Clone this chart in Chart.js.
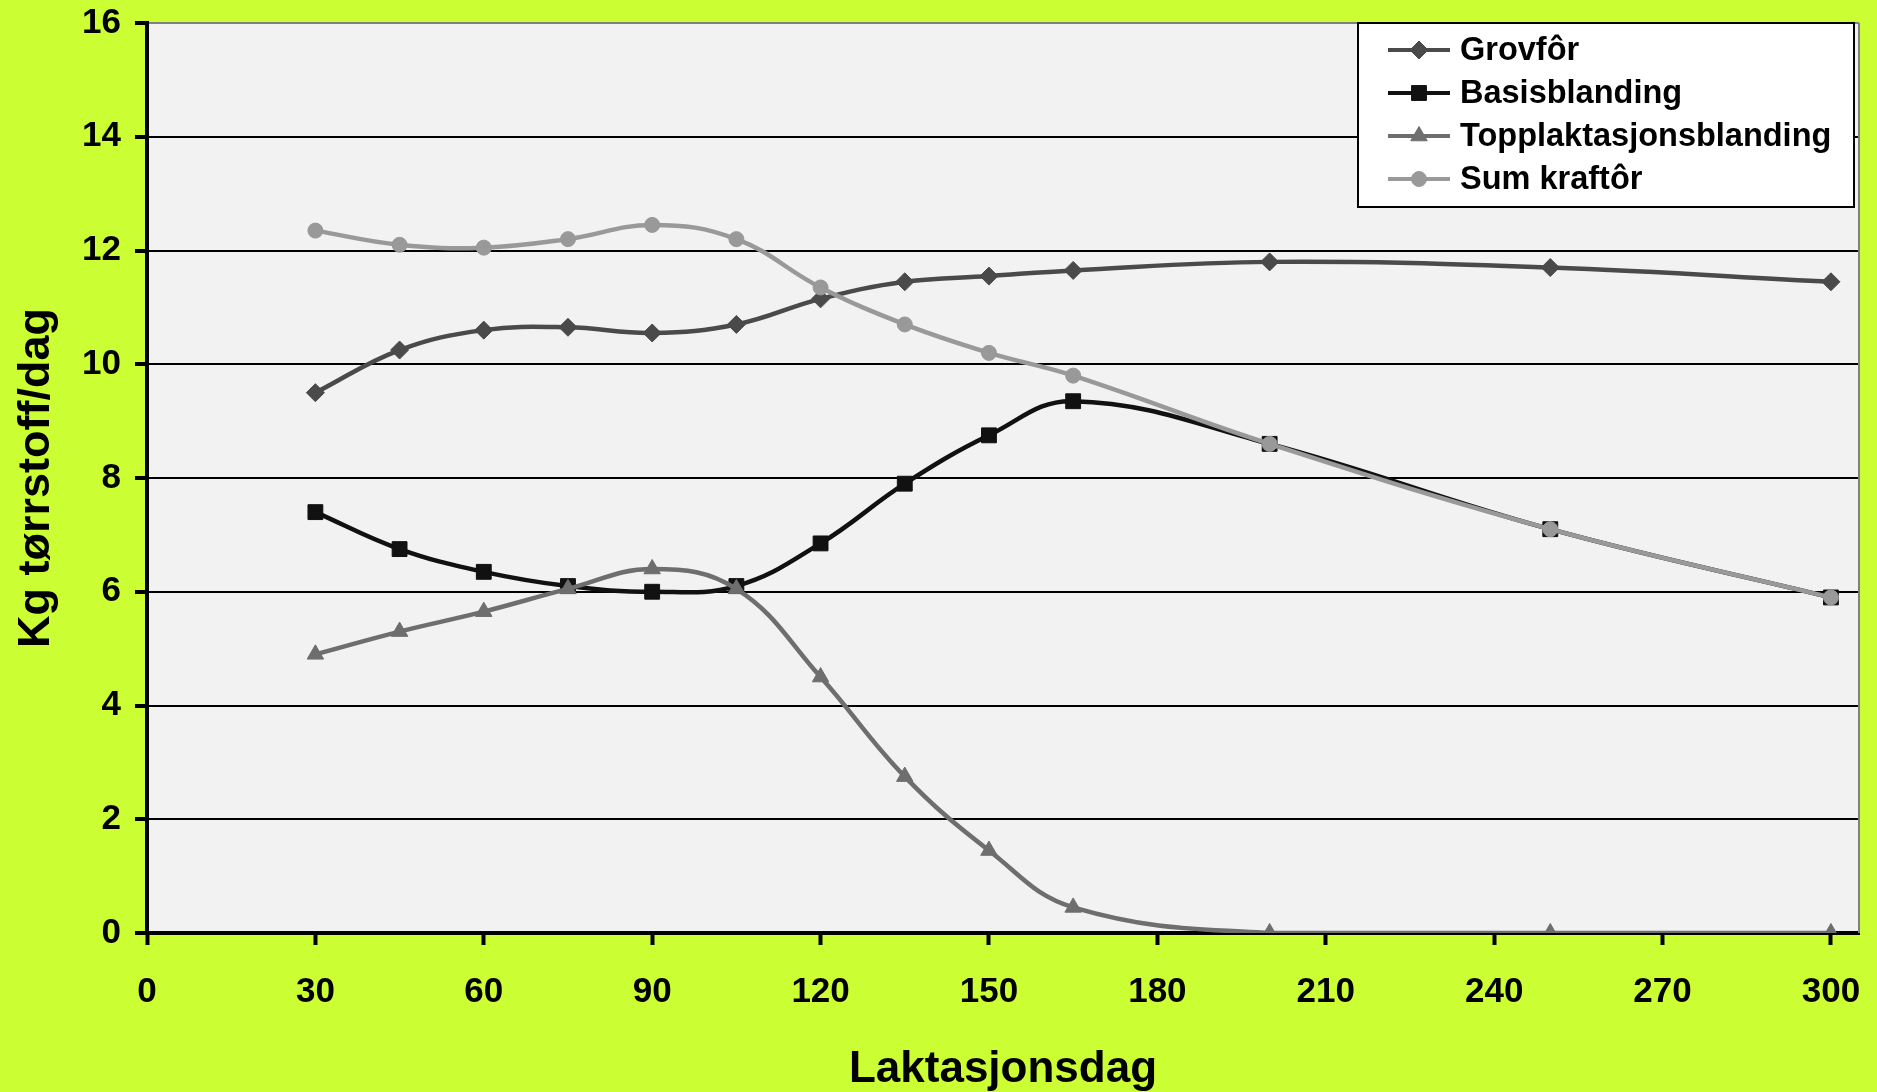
<!DOCTYPE html>
<html>
<head>
<meta charset="utf-8">
<script src="https://cdn.jsdelivr.net/npm/chart.js@4.4.0/dist/chart.umd.min.js"></script>
<style>
  html, body { margin: 0; padding: 0; background: #ccff33; }
  #wrap { width: 1877px; height: 1092px; position: relative; }
</style>
</head>
<body>
<div id="wrap"><canvas id="feed_chart" width="1877" height="1092"></canvas></div>
<script>
// data
var days = [30, 45, 60, 75, 90, 105, 120, 135, 150, 165, 200, 250, 300];
var grovfor = [9.5, 10.25, 10.6, 10.65, 10.55, 10.7, 11.15, 11.45, 11.55, 11.65, 11.8, 11.7, 11.45];
var basis = [7.4, 6.75, 6.35, 6.1, 6.0, 6.1, 6.85, 7.9, 8.75, 9.35, 8.6, 7.1, 5.9];
var topp = [4.9, 5.3, 5.65, 6.05, 6.4, 6.05, 4.5, 2.75, 1.45, 0.45, 0, 0, 0];
var sumKraftfor = [12.35, 12.1, 12.05, 12.2, 12.45, 12.2, 11.35, 10.7, 10.2, 9.8, 8.6, 7.1, 5.9];
var seriesNames = ['Grovfôr', 'Basisblanding', 'Topplaktasjonsblanding', 'Sum kraftôr'];
var xTicks = [0, 30, 60, 90, 120, 150, 180, 210, 240, 270, 300];
var yTicks = [0, 2, 4, 6, 8, 10, 12, 14, 16];

function points(ys) {
  return days.map((d, i) => ({ x: d, y: ys[i] }));
}

function makeSet(label, ys, color, style, r, order) {
  return {
    label: label,
    data: points(ys),
    borderColor: color,
    backgroundColor: color,
    borderWidth: 4.5,
    pointStyle: style,
    pointRadius: r,
    pointBorderWidth: 1,
    pointBorderColor: color,
    pointBackgroundColor: color,
    tension: 0.4,
    order: order
  };
}

// plot area background + right border
const plotBg = {
  id: 'plotBg',
  beforeDraw(chart) {
    const a = chart.chartArea, ctx = chart.ctx;
    ctx.save();
    ctx.fillStyle = '#f2f2f2';
    ctx.fillRect(a.left, a.top, a.right - a.left, a.bottom - a.top);
    ctx.restore();
  },
  beforeDatasetsDraw(chart) {
    const a = chart.chartArea, ctx = chart.ctx;
    ctx.save();
    ctx.strokeStyle = '#808080';
    ctx.lineWidth = 2;
    ctx.beginPath();
    ctx.moveTo(a.right, a.top);
    ctx.lineTo(a.right, a.bottom);
    ctx.stroke();
    ctx.restore();
  }
};

// legend box inside the plot, top right
const boxLegend = {
  id: 'boxLegend',
  afterDraw(chart) {
    const ctx = chart.ctx;
    const x0 = 1358, y0 = 23, w = 496, h = 184;
    ctx.save();
    ctx.fillStyle = '#ffffff';
    ctx.fillRect(x0, y0, w, h);
    ctx.strokeStyle = '#000000';
    ctx.lineWidth = 2;
    ctx.strokeRect(x0, y0, w, h);
    ctx.font = 'bold 32.5px "Liberation Sans", Arial, sans-serif';
    ctx.textBaseline = 'middle';
    chart.data.datasets.forEach((ds, i) => {
      const cy = y0 + 27 + i * 43;
      ctx.strokeStyle = ds.borderColor;
      ctx.lineWidth = 4;
      ctx.beginPath();
      ctx.moveTo(x0 + 30, cy);
      ctx.lineTo(x0 + 92, cy);
      ctx.stroke();
      ctx.fillStyle = ds.pointBackgroundColor;
      ctx.strokeStyle = ds.pointBorderColor;
      ctx.lineWidth = 1;
      Chart.helpers.drawPoint(ctx, { pointStyle: ds.pointStyle, radius: ds.pointRadius, rotation: 0, borderWidth: 1 }, x0 + 61, cy);
      ctx.fillStyle = '#000000';
      ctx.fillText(ds.label, x0 + 102, cy + 1);
    });
    ctx.restore();
  }
};

const ctx = document.getElementById('feed_chart').getContext('2d');
const myChart = new Chart(ctx, {
  type: 'line',
  data: {
    datasets: [
      makeSet(seriesNames[0], grovfor, '#4a4a4a', 'rectRot', 9, 3),
      makeSet(seriesNames[1], basis, '#111111', 'rect', 10.5, 2),
      makeSet(seriesNames[2], topp, '#6e6e6e', 'triangle', 9.5, 1),
      makeSet(seriesNames[3], sumKraftfor, '#999999', 'circle', 7.5, 0)
    ]
  },
  options: {
    responsive: false,
    animation: false,
    layout: { padding: { top: 23, right: 18, left: 0, bottom: 0 } },
    plugins: {
      legend: { display: false },
      tooltip: { enabled: false }
    },
    scales: {
      x: {
        type: 'linear',
        min: 0,
        max: 305,
        afterBuildTicks: s => { s.ticks = xTicks.map(v => ({ value: v })); },
        afterFit: s => { s.height = 159; s.paddingLeft = 0; s.paddingRight = 0; },
        border: { color: '#000000', width: 4 },
        grid: { drawOnChartArea: false, tickLength: 12, tickColor: '#000000', tickWidth: 4 },
        ticks: {
          color: '#000000',
          padding: 26,
          maxRotation: 0,
          font: { family: '"Liberation Sans", Arial, sans-serif', size: 35, weight: 'bold' }
        },
        title: {
          display: true,
          text: 'Laktasjonsdag',
          color: '#000000',
          padding: { top: 0, bottom: 0 },
          font: { family: '"Liberation Sans", Arial, sans-serif', size: 44, weight: 'bold', lineHeight: 1 }
        }
      },
      y: {
        min: 0,
        max: 16,
        afterBuildTicks: s => { s.ticks = yTicks.map(v => ({ value: v })); },
        afterFit: s => { s.width = 147; s.paddingTop = 0; s.paddingBottom = 0; },
        border: { color: '#000000', width: 4 },
        grid: {
          color: c => c.tick.value === 16 ? '#808080' : (c.tick.value === 0 ? 'rgba(0,0,0,0)' : '#000000'),
          lineWidth: 2,
          tickLength: 12,
          tickColor: '#000000',
          tickWidth: 4
        },
        ticks: {
          color: '#000000',
          padding: 14,
          font: { family: '"Liberation Sans", Arial, sans-serif', size: 35, weight: 'bold' }
        },
        title: {
          display: true,
          text: 'Kg tørrstoff/dag',
          color: '#000000',
          padding: { top: 10, bottom: 0 },
          font: { family: '"Liberation Sans", Arial, sans-serif', size: 45, weight: 'bold' }
        }
      }
    }
  },
  plugins: [plotBg, boxLegend]
});
</script>
</body>
</html>
